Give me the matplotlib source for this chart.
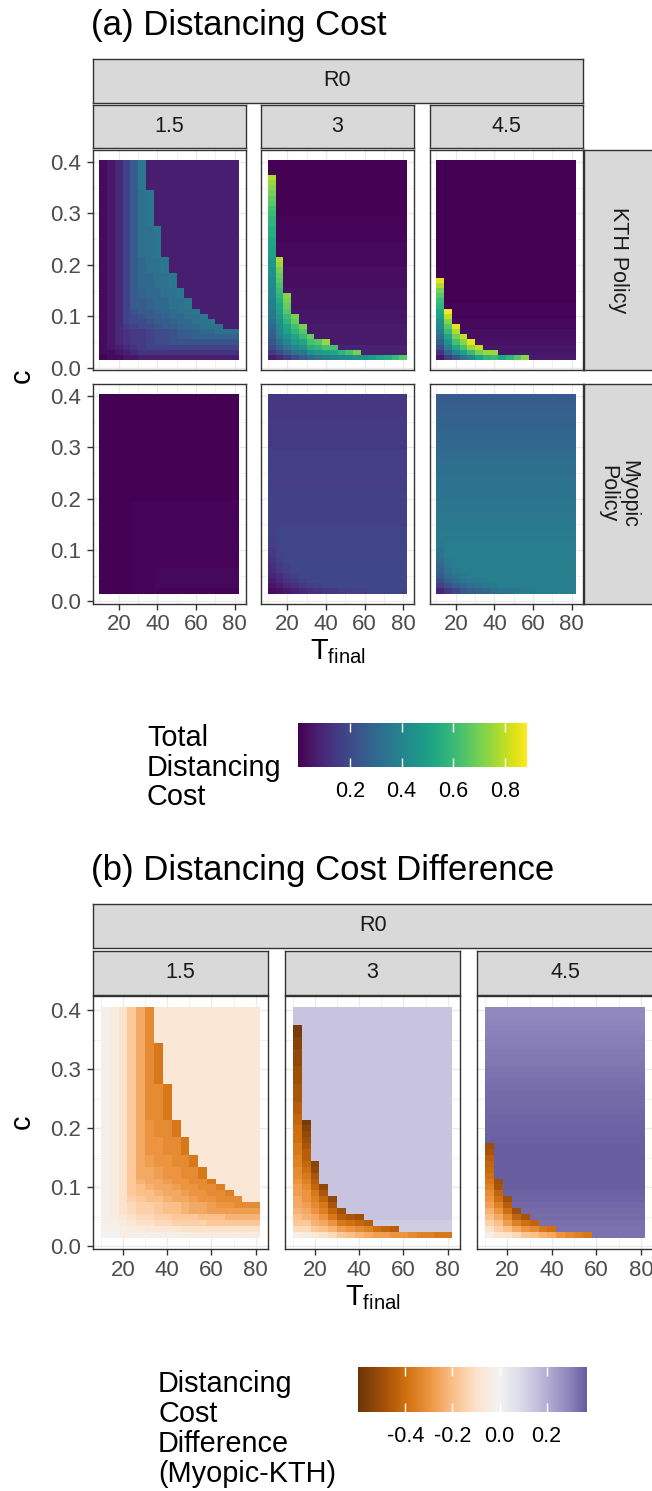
import numpy as np
import matplotlib
matplotlib.use("Agg")
import matplotlib.pyplot as plt
from matplotlib.colors import Normalize, LinearSegmentedColormap
from matplotlib.ticker import FixedLocator, FormatStrFormatter

plt.rcParams['font.family'] = ['Liberation Sans', 'DejaVu Sans']
plt.rcParams['axes.unicode_minus'] = False
plt.rcParams['mathtext.fontset'] = 'custom'
plt.rcParams['mathtext.rm'] = 'Liberation Sans'
plt.rcParams['mathtext.it'] = 'Liberation Sans:italic'

# ---------------- data ----------------
T_final = [12, 16, 20, 24, 28, 32, 36, 40, 44, 48, 52, 56, 60, 64, 68, 72, 76, 80]
c_values = [0.02, 0.03, 0.04, 0.05, 0.06, 0.07, 0.08, 0.09, 0.10, 0.11, 0.12, 0.13,
            0.14, 0.15, 0.16, 0.17, 0.18, 0.19, 0.20, 0.21, 0.22, 0.23, 0.24, 0.25,
            0.26, 0.27, 0.28, 0.29, 0.30, 0.31, 0.32, 0.33, 0.34, 0.35, 0.36, 0.37,
            0.38, 0.39, 0.40]
R0_labels = ["1.5", "3", "4.5"]
policy_labels = ["KTH Policy", "Myopic\nPolicy"]

# Two encodings are used for the grids (rows from c = 0.40 at top down to c = 0.02,
# 18 columns following T_final):
#  * coded rows: value = OFFSET + (index of char in LEVELS) * STEP
#  * "pct" rows: values in hundredths, "v*n" meaning the value v repeated n times
LEVELS = "0123456789abcdefghijklmnopqrstuvwxyzABCDEFGHIJKLMNOPQRSTUVWXYZ"
COST_STEP, COST_OFFSET = 0.025, 0.0
DIFF_STEP, DIFF_OFFSET = 0.025, -0.6

kth_r15 = [
    "1247ae333333333333", "1247ae333333333333", "1247ae333333333333",
    "1247ae333333333333", "1247ae333333333333", "1247ae333333333333",
    "1247ade33333333333", "1247ade33333333333", "1247ade33333333333",
    "1247ade33333333333", "1247ade33333333333", "1247ade33333333333",
    "1247ade33333333333", "1247adde3333333333", "1247adde3333333333",
    "1247adde3333333333", "1247adde3333333333", "1247adde3333333333",
    "1247adde3333333333", "1247acdde333333333", "1247acdde333333333",
    "1247acdde333333333", "1247accdde33333333", "1247accdde33333333",
    "1247accdde33333333", "1247abccdde3333333", "1247abccdde3333333",
    "1247aabccdde333333", "1247aabccdde333333", "12479aabccdde33333",
    "124789aabccdde3333", "1247889aabccdde333", "12467889aabccddd33",
    "1245667889aabccddd", "1245667889aabbbbbb", "124566788999999999",
    "123456777777777777", "112345555555555555", "011223333333333333",
]
kth_r3_pct = [
    "0*18", "0*18", "0*18",
    "77.5 0*17", "75 0*17", "72.5 0*17", "70 0*17", "67.5 0*17", "65 0*17",
    "62.5 0*17", "60 0*17",
    "57.5 1*17", "57.5 1*17", "55 1*17", "55 1*17", "52.5 1*17",
    "52.5 2*17", "50 2*17", "50 2*17",
    "47.5 77.5 2*16", "47.5 75 2*16",
    "45 70 3*16", "45 67.5 3*16", "42.5 65 3*16", "42.5 62.5 3*16",
    "40 60 4*16", "40 57.5 72.5 4*15", "37.5 55 70 4*15", "37.5 52.5 67.5 4*15",
    "35 50 65 5*15", "35 47.5 60 70 5*14", "32.5 45 57.5 67.5 5*14",
    "30 42.5 52.5 62.5 70 6*13", "27.5 40 50 57.5 65 6*13",
    "25 37.5 45 52.5 60 67.5 6*12",
    "22.5 32.5 40 47.5 52.5 62.5 65 75 6*10",
    "20 27.5 35 40 45 55 57.5 62.5 62.5 8*9",
    "15 20 27.5 32.5 35 45 47.5 50 52.5 57.5 62.5 70 8*6",
    "7.5 10 15 20 25 30 32.5 35 37.5 40 42.5 45 45 47.5 52.5 55 60 65",
]
kth_r45_pct = [
    "0*18", "0*18", "0*18", "0*18", "0*18", "0*18", "0*18", "0*18",
    "0*18", "0*18", "0*18", "0*18", "0*18", "0*18", "0*18", "0*18",
    "0*18", "0*18", "0*18", "0*18", "0*18", "0*18", "0*18",
    "85 0*17", "77.5 0*17", "70 0*17", "65 0*17", "60 0*17",
    "57.5 1*17", "52.5 87.5 1*16", "50 80 1*16",
    "45 72.5 2*16", "42.5 65 85 2*15",
    "37.5 60 77.5 3*15", "32.5 52.5 70 80 3*14",
    "27.5 45 62.5 72.5 85 4*13",
    "20 37.5 52.5 62.5 75 80 5*12",
    "12.5 27.5 40 50 60 70 75 75 5*10",
    "5 15 22.5 32.5 40 50 57.5 60 52.5 57.5 65 72.5 6*6",
]
myo_r15_pct = [
    "0*18", "0*18", "0*18", "0*18", "0*18", "0*18", "0*18",
    "0*18", "0*18", "0*18", "0*18", "0*18", "0*18", "0*18",
    "0*18", "0*18", "0*18", "0*18", "0*18", "0*18", "0*18",
    "0*4 1*14", "0*4 1*14", "0*4 1*14", "0*4 1*14", "0*4 1*14",
    "0*4 1*14", "0*4 1*14", "0*4 1*14", "0*4 1*14", "0*4 1*14",
    "0*4 1*14", "0*4 1*14", "0*4 1*14",
    "0*4 1*3 2*11", "0*4 1*3 2*11", "0*4 1*3 2*11", "0*4 1*3 2*11",
    "0*4 1*14",
]
myo_r3_pct = [
    "14*18", "14*18", "14*18", "14*18", "14*18",
    "15*18", "15*18", "15*18", "15*18", "15*18", "15*18",
    "16*18", "16*18", "16*18", "16*18", "16*18", "16*18", "16*18", "16*18",
    "17*18", "17*18", "17*18", "17*18", "17*18", "17*18", "17*18",
    "17 18*17", "17 18*17", "16 18*17", "16 18*17", "15 18*17",
    "14 17 18*16", "13 16 19*16", "12 15 17 19*15", "11 14 16 19*15",
    "9 12 15 17 19*14", "7 10 13 15 17 18 19*12",
    "5 7 10 12 14 16 17 18 19*10",
    "3 4 6 8 10 12 13 14 15 16 16 17 17 18*5",
]
myo_r45_pct = [
    "25*18", "25.5*18", "26*18", "26.5*18", "27*18", "27.5*18", "28*18",
    "28.5*18", "29*18", "29.5*18", "30*18", "30.5*18", "31*18", "31.5*18",
    "32*18", "32.3*18", "32.6*18", "33*18", "33.3*18", "33.7*18", "34*18",
    "34.3*18", "34.7*18", "35*18", "35.3*18", "35.7*18", "36*18", "36.3*18",
    "36 36.7*17", "35 37*17", "34 37.3*17", "33 37 37.6*16",
    "31 36 38*16", "29 35 37 38*15", "27 33 36 37 38*14",
    "25 31 34 36 37 38*13", "21 27 31 34 35 36 37 38*11",
    "16 22 27 30 32 34 35 36 37 38*9",
    "9 14 19 23 26 28 30 32 33 34 35 36 36 37*5",
]
diff_r15 = [
    "nmkhebllllllllllll", "nmkhebllllllllllll", "nmkhebllllllllllll",
    "nmkhebllllllllllll", "nmkhebllllllllllll", "nmkhebllllllllllll",
    "nmkheb9lllllllllll", "nmkheb9lllllllllll", "nmkheb9lllllllllll",
    "nmkheb9lllllllllll", "nmkheb9lllllllllll", "nmkheb9lllllllllll",
    "nmkheb9lllllllllll", "nmkhebb9llllllllll", "nmkhebb9llllllllll",
    "nmkhebb9llllllllll", "nmkhebb9llllllllll", "nmkhebb9llllllllll",
    "nmkhebb9llllllllll", "nmkhecbb9lllllllll", "nmkhecbb9lllllllll",
    "nmkhecbb9lllllllll", "nmkheccbb9llllllll", "nmkheccbb9llllllll",
    "nmkheccbb9llllllll", "nmkhedccbb9lllllll", "nmkhedccbb9lllllll",
    "nmkheedccbb9llllll", "nmkheedccbb9llllll", "nmkhfeedccbb9lllll",
    "nmkhgfeedccbballll", "nmkhggfeedccbballl", "nmkihggfeedccbbbll",
    "nmkjiihggfeedccbbb", "nmkjiihggfeedddddd", "nmlkjjiihhhgggffff",
    "nnmlkkjjiiiihhhhhh", "nnnmmllllkkkkkkkkk", "oonnnnnnnmmmmmmmmm",
]
diff_r3 = [
    "uuuuuuuuuuuuuuuuuu", "uuuuuuuuuuuuuuuuuu", "uuuuuuuuuuuuuuuuuu",
    "1uuuuuuuuuuuuuuuuu", "1uuuuuuuuuuuuuuuuu", "2uuuuuuuuuuuuuuuuu",
    "2uuuuuuuuuuuuuuuuu", "3uuuuuuuuuuuuuuuuu", "3uuuuuuuuuuuuuuuuu",
    "3uuuuuuuuuuuuuuuuu", "4uuuuuuuuuuuuuuuuu", "4uuuuuuuuuuuuuuuuu",
    "4uuuuuuuuuuuuuuuuu", "5uuuuuuuuuuuuuuuuu", "5uuuuuuuuuuuuuuuuu",
    "5uuuuuuuuuuuuuuuuu", "6uuuuuuuuuuuuuuuuu", "6uuuuuuuuuuuuuuuuu",
    "7uuuuuuuuuuuuuuuuu", "71uuuuuuuuuuuuuuuu", "82uuuuuuuuuuuuuuuu",
    "83uuuuuuuuuuuuuuuu", "84uuuuuuuuuuuuuuuu", "95uuuuuuuuuuuuuuuu",
    "96uuuuuuuuuuuuuuuu", "a6uuuuuuuuuuuuuuuu", "a72uuuuuuuuuuuuuuu",
    "b83uuuuuuuuuuuuuuu", "b95uuuuuuuuuuuuuuu", "ca6uuuuuuuuuuuuuuu",
    "db73uuuuuuuuuuuuuu", "dc95uuuuuuuuuuuuuu", "eca73uuuuuuuuuuuuu",
    "edb95uuuuuuuuuuuuu", "feca74uuuuuuuuuuuu", "gfec9654uuuuuuuuuu",
    "hhfec9876ttttttttt", "jjhgfdcba876tttttt", "nmlkjhgfeddccbaa99",
]
diff_r45_pct = [
    "29*18", "29.3*18", "29.7*18", "30*18", "30.4*18", "30.8*18", "31.2*18",
    "31.6*18", "32*18", "32.4*18", "32.8*18", "33.2*18", "33.5*18", "33.8*18",
    "34.1*18", "34.4*18", "34.7*18", "35*18", "35.3*18", "35.6*18", "35.9*18",
    "36.2*18", "36.5*18",
    "-50 37*17", "-48 37*17", "-45 37*17", "-43 37*17", "-42 37*17", "-40 37*17",
    "-38 -50 37*16", "-35 -48 36.5*16", "-32 -43 36*16",
    "-30 -40 -50 35.5*15", "-27 -35 -45 35*15",
    "-23 -30 -40 -50 34.5*14", "-20 -25 -33 -43 -48 34*13",
    "-15 -20 -28 -35 -40 -43 33.5*12",
    "-10 -15 -20 -25 -30 -33 -38 -40 33*10",
    "-3 -8 -10 -13 -18 -20 -23 -25 -30 -33 -35 -38 33*6",
]

cost_limits = (0.0, 0.885)
diff_limits = (-0.6, 0.37)
cost_ticks = [0.2, 0.4, 0.6, 0.8]
diff_ticks = [-0.4, -0.2, 0.0, 0.2]
diff_anchor_values = [-0.6, -0.48, -0.4, -0.3, -0.2, -0.1, 0.0, 0.1, 0.2, 0.3, 0.37]
diff_anchor_colors = ['#6e3507', '#a8540a', '#d0700f', '#ec9440', '#fbbf88', '#fde3cc',
                      '#f4f3f3', '#d9d8e9', '#b6b0d4', '#8d84bc', '#685d9f']


def check(grid):
    assert grid.shape == (len(c_values), len(T_final)), grid.shape
    return grid[::-1]   # bottom row first (c ascending)


def decode_codes(rows, step, offset):
    return check(np.array([[offset + LEVELS.index(ch) * step for ch in row] for row in rows]))


def decode_pct(rows):
    out = []
    for row in rows:
        vals = []
        for tok in row.split():
            if '*' in tok:
                v, n = tok.split('*')
                vals.extend([float(v) / 100.0] * int(n))
            else:
                vals.append(float(tok) / 100.0)
        out.append(vals)
    return check(np.array(out))


kth = [decode_codes(kth_r15, COST_STEP, COST_OFFSET),
       decode_pct(kth_r3_pct),
       decode_pct(kth_r45_pct)]
myo = [decode_pct(myo_r15_pct),
       decode_pct(myo_r3_pct),
       decode_pct(myo_r45_pct)]
diff = [decode_codes(diff_r15, DIFF_STEP, DIFF_OFFSET),
        decode_codes(diff_r3, DIFF_STEP, DIFF_OFFSET),
        decode_pct(diff_r45_pct)]

# ---------------- figure ----------------
W, H = 652.0, 1491.0
PX = 0.72  # points per pixel at dpi 100
fig = plt.figure(figsize=(W / 100, H / 100), dpi=100, facecolor='white')

TICK_FS = 16
CBAR_FS = 15.5
STRIP_FS = 15.5
AXIS_FS = 20.8
TITLE_FS = 25
EDGE = '#333333'


def add_ax(x0, y0, x1, y1):
    return fig.add_axes([x0 / W, 1 - y1 / H, (x1 - x0) / W, (y1 - y0) / H])


def ftext(x, y, s, **kw):
    return fig.text(x / W, 1 - y / H, s, **kw)


def panel(box, Z, cmap, norm, left, bottom):
    ax = add_ax(*box)
    ax.pcolormesh(T_final, c_values, Z, cmap=cmap, norm=norm, shading='nearest',
                  edgecolors='none', antialiased=False, zorder=2)
    ax.set_xlim(6.4, 85.6)
    ax.set_ylim(-0.0045, 0.4245)
    ax.xaxis.set_major_locator(FixedLocator([20, 40, 60, 80]))
    ax.xaxis.set_minor_locator(FixedLocator([10, 30, 50, 70]))
    ax.yaxis.set_major_locator(FixedLocator([0.0, 0.1, 0.2, 0.3, 0.4]))
    ax.yaxis.set_minor_locator(FixedLocator([0.05, 0.15, 0.25, 0.35]))
    ax.yaxis.set_major_formatter(FormatStrFormatter('%.1f'))
    ax.grid(True, which='major', color='#ebebeb', lw=1.0)
    ax.grid(True, which='minor', color='#ebebeb', lw=0.5)
    ax.set_axisbelow(True)
    for s in ax.spines.values():
        s.set_color(EDGE)
        s.set_linewidth(1.0)
    ax.tick_params(which='minor', length=0)
    ax.tick_params(which='major', length=6 * PX, width=1.0, color=EDGE,
                   labelsize=TICK_FS, labelcolor='#4d4d4d')
    ax.tick_params(axis='x', pad=3.5, bottom=bottom, labelbottom=bottom)
    ax.tick_params(axis='y', pad=4, left=left, labelleft=left)
    return ax


def strip(box, label, rotation=0):
    ax = add_ax(*box)
    ax.set_facecolor('#d9d9d9')
    ax.set_xticks([])
    ax.set_yticks([])
    for s in ax.spines.values():
        s.set_color(EDGE)
        s.set_linewidth(1.0)
    ax.text(0.5, 0.5, label, transform=ax.transAxes, ha='center', va='center',
            rotation=rotation, fontsize=STRIP_FS, color='#1a1a1a', linespacing=1.0)
    return ax


def colorbar(box, cmap, norm, lims, ticks, labels):
    ax = add_ax(*box)
    grad = np.linspace(lims[0], lims[1], 400)[None, :]
    ax.imshow(grad, extent=[lims[0], lims[1], 0, 1], aspect='auto', cmap=cmap,
              norm=norm, interpolation='bilinear')
    ax.set_xlim(*lims)
    ax.set_ylim(0, 1)
    ax.vlines(ticks, 0, 0.2, color='white', lw=1.0)
    ax.vlines(ticks, 0.8, 1, color='white', lw=1.0)
    for s in ax.spines.values():
        s.set_visible(False)
    ax.set_yticks([])
    ax.set_xticks(ticks)
    ax.set_xticklabels(labels)
    ax.tick_params(axis='x', length=0, pad=10, labelsize=CBAR_FS, labelcolor='black')
    return ax


viridis = plt.get_cmap('viridis')
cost_norm = Normalize(*cost_limits)
span = diff_limits[1] - diff_limits[0]
diff_cmap = LinearSegmentedColormap.from_list(
    'diff', [((v - diff_limits[0]) / span, col)
             for v, col in zip(diff_anchor_values, diff_anchor_colors)])
diff_norm = Normalize(*diff_limits)

# ---------- (a) ----------
ftext(91, 26, '(a) Distancing Cost', fontsize=TITLE_FS, ha='left', va='center')
a_cols = [(92.5, 245.5), (261, 414), (429.5, 582.5)]
a_rows = [(149.5, 370), (383.5, 603.5)]
strip((92.5, 59.3, 582.5, 102.7), 'R0')
for j, (x0, x1) in enumerate(a_cols):
    strip((x0, 105, x1, 148.3), R0_labels[j])
for i, (y0, y1) in enumerate(a_rows):
    data = kth if i == 0 else myo
    for j, (x0, x1) in enumerate(a_cols):
        panel((x0, y0, x1, y1), data[j], viridis, cost_norm, left=(j == 0), bottom=(i == 1))
    strip((583.5, y0, 652.5, y1), policy_labels[i], rotation=-90)

ftext(22, 376, 'c', fontsize=AXIS_FS, rotation=90, ha='center', va='center')
ftext(337.5, 652, r'T$_{\mathrm{final}}$', fontsize=AXIS_FS, ha='center', va='center')

for k, line in enumerate(['Total', 'Distancing', 'Cost']):
    ftext(147, 746 + 29.5 * k, line, fontsize=AXIS_FS, ha='left', va='baseline')
colorbar((298.3, 722.7, 526.7, 767.3), viridis, cost_norm, cost_limits, cost_ticks,
         ['0.2', '0.4', '0.6', '0.8'])

# ---------- (b) ----------
ftext(91, 870, '(b) Distancing Cost Difference', fontsize=TITLE_FS, ha='left', va='center')
b_cols = [(93, 268), (285, 460), (477, 653.5)]
b_row = (996, 1249)
strip((92.5, 904, 653.5, 947.5), 'R0')
for j, (x0, x1) in enumerate(b_cols):
    strip((x0, 950.5, x1, 994.5), R0_labels[j])
    panel((x0, b_row[0], x1, b_row[1]), diff[j], diff_cmap, diff_norm, left=(j == 0), bottom=True)

ftext(22, 1122, 'c', fontsize=AXIS_FS, rotation=90, ha='center', va='center')
ftext(372.5, 1298, r'T$_{\mathrm{final}}$', fontsize=AXIS_FS, ha='center', va='center')

for k, line in enumerate(['Distancing', 'Cost', 'Difference', '(Myopic-KTH)']):
    ftext(158, 1392.5 + 30 * k, line, fontsize=AXIS_FS, ha='left', va='baseline')
colorbar((358.3, 1366.7, 586.7, 1411.7), diff_cmap, diff_norm, diff_limits, diff_ticks,
         ['-0.4', '-0.2', '0.0', '0.2'])

fig.savefig('out.png', dpi=100, facecolor='white')
